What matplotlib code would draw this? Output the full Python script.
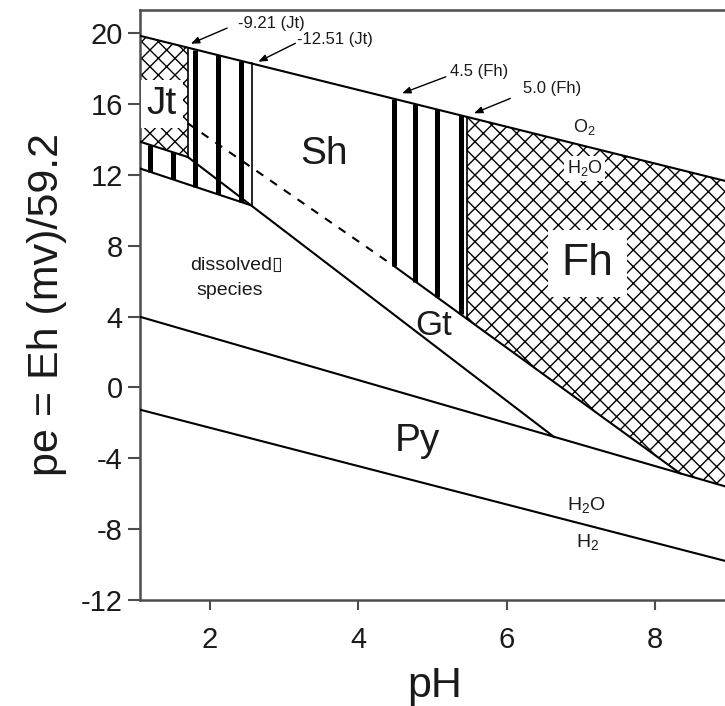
import numpy as np
import matplotlib
matplotlib.use('Agg')
import matplotlib.pyplot as plt

plt.rcParams['font.family'] = ['Liberation Sans', 'DejaVu Sans']
plt.rcParams['hatch.linewidth'] = 1.0
plt.rcParams['axes.unicode_minus'] = False

# boundary lines (pH, pe)
o2_ph = [1.0, 9.0]
o2_pe = [19.9, 11.6]
h2_ph = [1.0, 9.0]
h2_pe = [-1.2, -9.85]
py_ph = [1.0, 9.0]
py_pe = [4.05, -5.65]
dis_ph = [1.0, 2.55]
dis_pe = [12.43, 10.28]
sh_ph = [1.70, 6.64]
sh_pe = [13.0, -2.8]
gtd_ph = [1.70, 4.48]
gtd_pe = [14.9, 6.85]
gt_ph = [4.48, 8.34]
gt_pe = [6.85, -4.85]
jtb_ph = [1.0, 1.70]
jtb_pe = [13.94, 13.0]

jt_edge = 1.70
jt_edge2 = 2.56
fh_edge = 5.46
stripes_jt_upper = [1.80, 2.10, 2.41]
stripes_jt_lower = [1.19, 1.50]
stripes_fh = [4.48, 4.77, 5.06, 5.38]

yticks = [-12, -8, -4, 0, 4, 8, 12, 16, 20]
xticks = [2, 4, 6, 8]


def on(ph, xs, ys):
    return float(np.interp(ph, xs, ys))


fig = plt.figure(figsize=(7.25, 7.06), dpi=100)
ax = fig.add_axes([140/725, 106/706, 589/725, 590/706])
ax.set_xlim(1.054, 9.0)
ax.set_ylim(-12, 21.3)

# Jt cross-hatched field
jt_x = [1.0, jt_edge, jt_edge, 1.0]
jt_y = [on(1.0, o2_ph, o2_pe), on(jt_edge, o2_ph, o2_pe),
        on(jt_edge, jtb_ph, jtb_pe), on(1.0, jtb_ph, jtb_pe)]
ax.fill(jt_x, jt_y, facecolor='white', edgecolor='black', hatch='xx', lw=0, zorder=1)

# Fh cross-hatched field
fh_x = [fh_edge, 9.0, 9.0, gt_ph[1], fh_edge]
fh_y = [on(fh_edge, o2_ph, o2_pe), on(9.0, o2_ph, o2_pe), on(9.0, py_ph, py_pe),
        gt_pe[1], on(fh_edge, gt_ph, gt_pe)]
ax.fill(fh_x, fh_y, facecolor='white', edgecolor='black', hatch='xx', lw=0, zorder=1)

# vertical stripes
for p in stripes_jt_upper:
    ax.plot([p, p], [on(p, dis_ph, dis_pe), on(p, o2_ph, o2_pe)], color='black',
            lw=3.6, solid_capstyle='butt', zorder=2)
for p in stripes_jt_lower:
    ax.plot([p, p], [on(p, dis_ph, dis_pe), on(p, jtb_ph, jtb_pe)], color='black',
            lw=3.6, solid_capstyle='butt', zorder=2)
for p in stripes_fh:
    ax.plot([p, p], [on(p, gt_ph, gt_pe), on(p, o2_ph, o2_pe)], color='black',
            lw=3.6, solid_capstyle='butt', zorder=2)

# edges of the fields
ax.plot([jt_edge, jt_edge], [on(jt_edge, jtb_ph, jtb_pe), on(jt_edge, o2_ph, o2_pe)],
        color='black', lw=1.2, zorder=3)
ax.plot([jt_edge2, jt_edge2], [on(jt_edge2, sh_ph, sh_pe), on(jt_edge2, o2_ph, o2_pe)],
        color='black', lw=1.2, zorder=3)
ax.plot([fh_edge, fh_edge], [on(fh_edge, gt_ph, gt_pe), on(fh_edge, o2_ph, o2_pe)],
        color='black', lw=1.2, zorder=3)

# boundary lines
lk = dict(color='black', lw=1.5, zorder=3)
ax.plot(o2_ph, o2_pe, **lk)
ax.plot(h2_ph, h2_pe, **lk)
ax.plot(py_ph, py_pe, **lk)
ax.plot(dis_ph, dis_pe, **lk)
ax.plot(sh_ph, sh_pe, **lk)
ax.plot(jtb_ph, jtb_pe, **lk)
ax.plot(gt_ph, gt_pe, **lk)
ax.plot(gtd_ph, gtd_pe, color='black', lw=1.5, ls=(0, (4, 4)), zorder=3)

# field labels
tc = '#1a1a1a'
wbox = dict(facecolor='white', edgecolor='none', boxstyle='square,pad=0.15')
ax.text(1.35, 16.0, 'Jt', fontsize=28, color=tc, ha='center', va='center', bbox=wbox, zorder=4)
ax.text(3.53, 13.2, 'Sh', fontsize=28, color=tc, ha='center', va='center', zorder=4)
ax.text(7.09, 7.0, 'Fh', fontsize=32, color=tc, ha='center', va='center', zorder=4,
        bbox=dict(facecolor='white', edgecolor='none', boxstyle='square,pad=0.3'))
ax.text(5.02, 3.5, 'Gt', fontsize=25, color=tc, ha='center', va='center', zorder=4)
ax.text(4.8, -3.0, 'Py', fontsize=28, color=tc, ha='center', va='center', zorder=4)
ax.text(2.36, 6.9, 'dissolved\u25af', fontsize=14, color=tc, ha='center', va='center', zorder=4)
ax.text(2.27, 5.45, 'species', fontsize=14, color=tc, ha='center', va='center', zorder=4)
ax.text(7.05, 14.7, r'O$_\mathregular{2}$', fontsize=13, color=tc, ha='center', va='center', zorder=4)
ax.text(7.05, 12.36, r'H$_\mathregular{2}$O', fontsize=13, color=tc, ha='center', va='center',
        bbox=wbox, zorder=4)
ax.text(7.07, -6.7, r'H$_\mathregular{2}$O', fontsize=14, color=tc, ha='center', va='center', zorder=4)
ax.text(7.09, -8.8, r'H$_\mathregular{2}$', fontsize=14, color=tc, ha='center', va='center', zorder=4)

# arrows to the solubility-constant boundaries
arr = dict(arrowstyle='-|>,head_length=0.5,head_width=0.2', color='black', lw=1.0,
           shrinkA=0, shrinkB=0)
notes = [('-9.21 (Jt)', (2.83, 20.55), (2.23, 20.28), (1.74, 19.4)),
         ('-12.51 (Jt)', (3.69, 19.64), (3.15, 19.42), (2.65, 18.38)),
         ('4.5 (Fh)', (5.63, 17.82), (5.18, 17.53), (4.59, 16.6)),
         ('5.0 (Fh)', (6.62, 16.88), (6.05, 16.31), (5.56, 15.47))]
for label, tpos, tail, tip in notes:
    ax.text(tpos[0], tpos[1], label, fontsize=12, color=tc, ha='center', va='center', zorder=4)
    ax.annotate('', xy=tip, xytext=tail, arrowprops=arr, zorder=4)

# axes
for s in ax.spines.values():
    s.set_color('#4d4d4d')
    s.set_linewidth(1.8)
ax.set_xticks(xticks)
ax.set_yticks(yticks)
ax.tick_params(axis='y', direction='out', length=8.5, width=1.5, color='#4d4d4d',
               labelsize=21, labelcolor=tc, pad=4)
ax.tick_params(axis='x', direction='out', length=7, width=1.5, color='#4d4d4d',
               labelsize=21, labelcolor=tc, pad=12)
ax.set_xlabel('pH', fontsize=31, color=tc, labelpad=8)
ax.set_ylabel('pe = Eh (mv)/59.2', fontsize=31, color=tc, labelpad=10)

fig.savefig('out.png', dpi=100)
